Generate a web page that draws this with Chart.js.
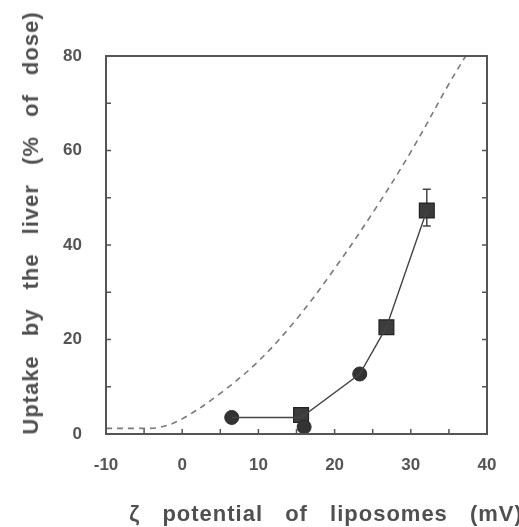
<!DOCTYPE html>
<html>
<head>
<meta charset="utf-8">
<script src="https://cdn.jsdelivr.net/npm/chart.js@4/dist/chart.umd.min.js"></script>
<style>
  html, body { margin: 0; padding: 0; background: #fff; }
  #wrap { position: relative; width: 519px; height: 527px; overflow: hidden; }
  canvas { position: absolute; left: 0; top: 0; }
  .ttl { position: absolute; white-space: nowrap; font-family: "Liberation Sans", Arial, Helvetica, sans-serif;
         font-weight: bold; color: #505050; font-size: 22px; line-height: 24px; }
  #ytitle { left: 31px; top: 223px; transform: translate(-50%, -50%) rotate(-90deg); letter-spacing: 1px; word-spacing: 12px; }
  #xtitle { left: 326px; top: 514px; transform: translate(-50%, -50%); letter-spacing: 1px; word-spacing: 15px; }
</style>
</head>
<body>
<div id="wrap">
  <canvas id="c" width="519" height="527"></canvas>
  <div id="ytitle" class="ttl">Uptake by the liver (% of dose)</div>
  <div id="xtitle" class="ttl">ζ potential of liposomes (mV)</div>
</div>
<script>
// ---- data ----
const circleX = [6.5, 16.0, 23.3];
const circleY = [3.5, 1.5, 12.7];
const squareX = [15.6, 26.8, 32.1];
const squareY = [4.0, 22.6, 47.3];
const squareErrLow  = [null, null, 44.0];
const squareErrHigh = [null, null, 51.8];
const lineX = [6.5, 15.6, 23.3, 26.8, 32.1];
const lineY = [3.5, 3.5, 12.7, 22.6, 47.3];
const curveX = [-10, -6, -3, 0, 5, 10, 15, 20, 25, 30, 35, 37.2];
const curveY = [1.2, 1.2, 1.4, 3.2, 8.6, 15.4, 24.3, 35.0, 46.8, 59.7, 74.1, 80.0];
const xMin = -10, xMax = 40, xStep = 5, xLabelEvery = 10;
const yMin = 0, yMax = 80, yStep = 10, yLabelEvery = 20;

const pts = (xs, ys) => xs.map((x, i) => ({ x: x, y: ys[i] }));

const FONT = "'Liberation Sans', Arial, Helvetica, sans-serif";
const INK = '#555';

const framePlugin = {
  id: 'frame',
  beforeDatasetsDraw(chart) {
    const { ctx, scales } = chart;
    ctx.save();
    ctx.strokeStyle = '#444';
    ctx.lineWidth = 1.5;
    squareX.forEach((x, i) => {
      if (squareErrLow[i] == null) return;
      const px = scales.x.getPixelForValue(x);
      const lo = scales.y.getPixelForValue(squareErrLow[i]);
      const hi = scales.y.getPixelForValue(squareErrHigh[i]);
      ctx.beginPath();
      ctx.moveTo(px, lo); ctx.lineTo(px, hi);
      ctx.moveTo(px - 4, lo); ctx.lineTo(px + 4, lo);
      ctx.moveTo(px - 4, hi); ctx.lineTo(px + 4, hi);
      ctx.stroke();
    });
    ctx.restore();
  },
  afterDraw(chart) {
    const { ctx, chartArea: a, scales } = chart;
    ctx.save();
    ctx.strokeStyle = '#555';
    ctx.lineWidth = 2;
    ctx.strokeRect(a.left, a.top, a.right - a.left, a.bottom - a.top);
    ctx.lineWidth = 1.5;
    ctx.beginPath();
    scales.x.ticks.forEach(t => {
      const px = scales.x.getPixelForValue(t.value);
      if (t.value === xMin || t.value === xMax) return;
      ctx.moveTo(px, a.bottom); ctx.lineTo(px, a.bottom - 5);
    });
    scales.y.ticks.forEach(t => {
      const py = scales.y.getPixelForValue(t.value);
      if (t.value === yMin || t.value === yMax) return;
      ctx.moveTo(a.left, py); ctx.lineTo(a.left + 5, py);
      ctx.moveTo(a.right, py); ctx.lineTo(a.right - 5, py);
    });
    ctx.stroke();
    ctx.restore();
  }
};

new Chart(document.getElementById('c'), {
  type: 'scatter',
  data: {
    datasets: [
      { data: pts(curveX, curveY), showLine: true, borderColor: '#7a7a7a', borderWidth: 1.6,
        borderDash: [6, 5], pointRadius: 0, tension: 0.35, fill: false },
      { data: pts(lineX, lineY), showLine: true, borderColor: '#444', borderWidth: 1.4,
        pointRadius: 0, fill: false },
      { data: pts(circleX, circleY), pointStyle: 'circle', pointRadius: 7,
        backgroundColor: '#333', borderColor: '#2a2a2a', borderWidth: 1 },
      { data: pts(squareX, squareY), pointStyle: 'rect', pointRadius: 10.5,
        backgroundColor: '#3c3c3c', borderColor: '#222', borderWidth: 1.2 }
    ]
  },
  options: {
    responsive: false,
    animation: false,
    devicePixelRatio: 1,
    layout: { padding: { left: 0, top: 56, right: 32, bottom: 0 } },
    plugins: { legend: { display: false }, tooltip: { enabled: false } },
    scales: {
      x: {
        type: 'linear', min: xMin, max: xMax,
        grid: { display: false, drawTicks: false }, border: { display: false },
        ticks: { stepSize: xStep, autoSkip: false, maxRotation: 0, padding: 21,
                 color: INK, font: { family: FONT, size: 17, weight: 'bold' },
                 callback: v => (v % xLabelEvery === 0 ? String(v) : '') },
        afterFit: s => { s.height = 93; }
      },
      y: {
        type: 'linear', min: yMin, max: yMax,
        grid: { display: false, drawTicks: false }, border: { display: false },
        ticks: { stepSize: yStep, autoSkip: false, padding: 24,
                 color: INK, font: { family: FONT, size: 17, weight: 'bold' },
                 callback: v => (v % yLabelEvery === 0 ? String(v) : '') },
        afterFit: s => { s.width = 106; }
      }
    }
  },
  plugins: [framePlugin]
});
</script>
</body>
</html>
